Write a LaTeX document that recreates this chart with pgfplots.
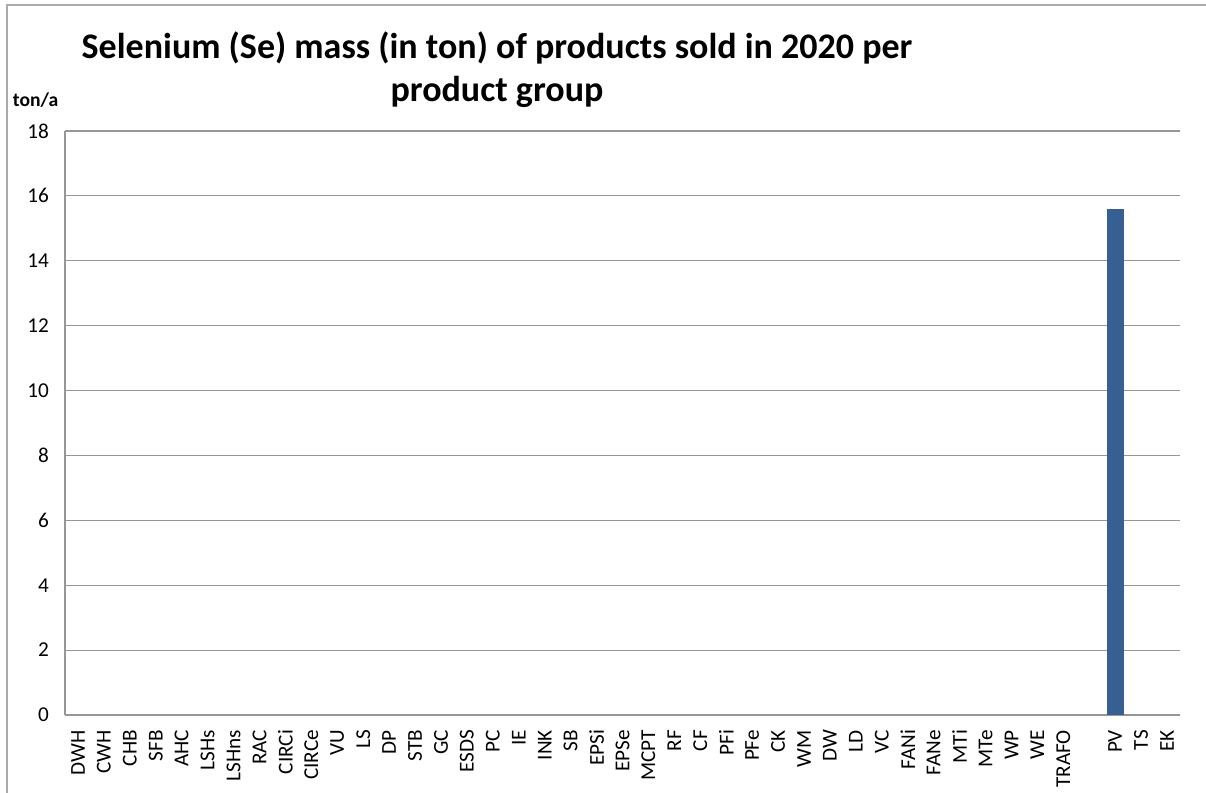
\documentclass[border=0pt]{standalone}
\usepackage{pgfplots}
\pgfplotsset{compat=1.18}
\usepackage{fontspec}
\setmainfont{Carlito}
\definecolor{barblue}{RGB}{54,96,146}
\definecolor{gridgray}{RGB}{150,150,150}
\begin{document}
\begin{tikzpicture}
\useasboundingbox (0pt,0pt) rectangle (603pt,396.5pt);
\draw[gridgray!80, line width=0.6pt] (3.5pt,0pt) -- (3.5pt,394pt) -- (603pt,394pt);
\node[font=\bfseries\fontsize{18}{21.5}\selectfont, align=center] at (248.5pt,361.5pt) {Selenium (Se) mass (in ton) of products sold in 2020 per\\product group};
\node[font=\bfseries\fontsize{9.8}{11}\selectfont] at (17.8pt,346.5pt) {ton/a};
\begin{axis}[
  at={(32.5pt,39pt)}, anchor=south west,
  scale only axis, width=557.5pt, height=292pt,
  xmin=-0.5, xmax=42.5, ymin=0, ymax=18,
  ytick={0,2,...,18},
  xtick={0,...,42},
  xticklabels={DWH,CWH,CHB,SFB,AHC,LSHs,LSHns,RAC,CIRCi,CIRCe,VU,LS,DP,STB,GC,ESDS,PC,IE,INK,SB,EPSi,EPSe,MCPT,RF,CF,PFi,PFe,CK,WM,DW,LD,VC,FANi,FANe,MTi,MTe,WP,WE,TRAFO,{},PV,TS,EK},
  xticklabel style={rotate=90, anchor=east, font=\fontsize{10.6}{12}\selectfont},
  yticklabel style={font=\fontsize{10.6}{12}\selectfont},
  /pgf/number format/assume math mode=true,
  major tick length=0pt,
  axis x line*=bottom, axis y line*=left,
  axis line style={gridgray, line width=0.6pt, -},
  ymajorgrids, grid style={gridgray, line width=0.6pt},
  xtick style={draw=none}, ytick style={draw=none},
  yticklabel shift=4.5pt, xticklabel shift=4pt,
  clip=false,
]
\addplot[ybar, bar width=8.5pt, fill=barblue, draw=none] coordinates {(40,15.6)};
\end{axis}
\end{tikzpicture}
\end{document}
